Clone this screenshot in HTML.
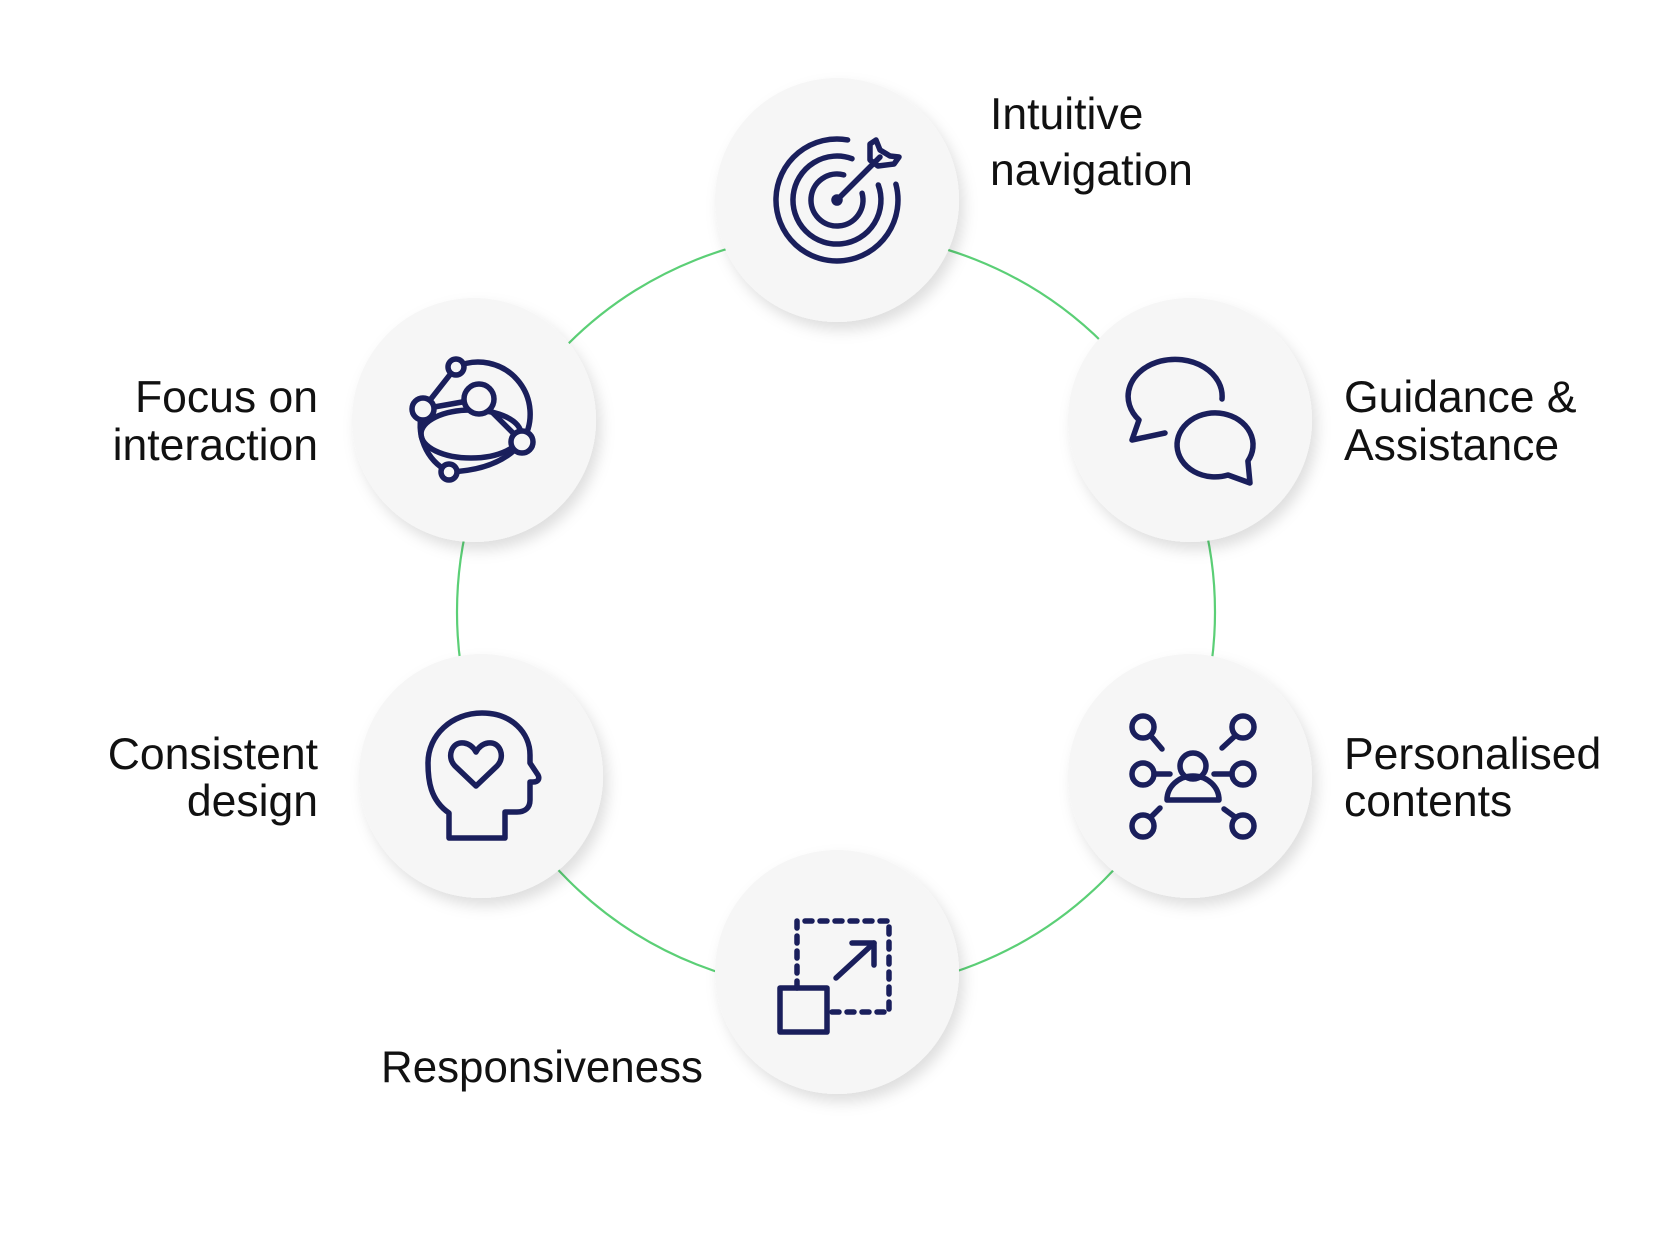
<!DOCTYPE html>
<html><head><meta charset="utf-8"><style>
html,body{margin:0;padding:0;background:#fff;}
svg{display:block;}
text{font-family:"Liberation Sans",Arial,sans-serif;font-size:44.5px;fill:#111;}
</style></head><body>
<svg width="1680" height="1240" viewBox="0 0 1680 1240" xmlns="http://www.w3.org/2000/svg">
<defs>
<filter id="sh" x="-30%" y="-30%" width="160%" height="160%">
<feDropShadow dx="5" dy="8" stdDeviation="7" flood-color="#000" flood-opacity="0.13"/>
</filter>
</defs>
<circle cx="836" cy="612" r="379" fill="none" stroke="#5bcf76" stroke-width="2.2"/>
<g fill="#f6f6f6" filter="url(#sh)">
<circle cx="837" cy="200" r="122"/>
<circle cx="1190" cy="420" r="122"/>
<circle cx="474" cy="420" r="122"/>
<circle cx="481" cy="776" r="122"/>
<circle cx="1190" cy="776" r="122"/>
<circle cx="837" cy="972" r="122"/>
</g>
<g fill="none" stroke="#1a1f5c" stroke-width="5.5" stroke-linecap="round" stroke-linejoin="round">
<path d="M895.9,184.2 A61,61 0 1 1 847.6,139.9"/>
<path d="M878.3,185 A44,44 0 1 1 852,158.7"/>
<path d="M862.1,193.3 A26,26 0 1 1 843.7,174.9"/>
<line x1="837" y1="200" x2="880" y2="157"/>
<path d="M870,160 L870,144 L876,140 L880,150 L890,156 L899,157 L894,164 L878,166 Z"/>
<circle cx="837" cy="200" r="3" fill="#1a1f5c"/>
<path d="M1165,433 L1132,440 L1139,420 A47,37 0 1 1 1222,399"/>
<path d="M1228,475 A38,32 0 1 1 1247.9,461 L1250,483 Z" />
<path d="M522,442 A52,52 0 0 0 456,367"/>
<path d="M423,409 A52,52 0 0 0 449,472"/>
<ellipse cx="471" cy="434" rx="50" ry="24"/>
<path d="M423,409 L479,399 L522,442"/>
<path d="M449,472 Q500,470 522,442"/>
<path d="M423,409 L456,367"/>
<g fill="#f6f6f6">
<circle cx="456" cy="367" r="8"/>
<circle cx="423" cy="409" r="11"/>
<circle cx="479" cy="399" r="15"/>
<circle cx="522" cy="442" r="11"/>
<circle cx="449" cy="472" r="8"/>
</g>
<path d="M449,838 L449,813 C430,800 428,780 428,763 C428,735 452,713 482,713 C512,713 530,733 530,755 L530,763 L538,775 C540,779 538,782 533,782 L530,782 L530,800 C530,808 525,812 517,812 L505,812 L505,838 Z"/>
<path d="M476,786 L455,766 C446,757 452,741 464,743 C470,744 474,748 476,752 C478,748 482,744 488,743 C500,741 506,757 497,766 Z"/>
<circle cx="1193" cy="766" r="13"/>
<path d="M1167,800 A26,24 0 0 1 1219,800 Z"/>
<circle cx="1143" cy="727" r="11"/><circle cx="1143" cy="774" r="11"/><circle cx="1143" cy="826" r="11"/>
<circle cx="1243" cy="727" r="11"/><circle cx="1243" cy="774" r="11"/><circle cx="1243" cy="826" r="11"/>
<line x1="1151" y1="736" x2="1162" y2="749"/><line x1="1154" y1="774" x2="1170" y2="774"/><line x1="1151" y1="817" x2="1160" y2="808"/>
<line x1="1235" y1="736" x2="1222" y2="748"/><line x1="1232" y1="774" x2="1214" y2="774"/><line x1="1235" y1="817" x2="1224" y2="809"/>
<rect x="780" y="988" width="47" height="44"/>
<path d="M797,988 L797,921 L889,921 L889,1012 L827,1012" stroke-dasharray="7,8"/>
<line x1="836" y1="978" x2="874" y2="943"/>
<path d="M852,943 L874,943 L874,965"/>
</g>
<text x="990" y="129">Intuitive</text>
<text x="990" y="185">navigation</text>
<text x="318" y="412" text-anchor="end">Focus on</text>
<text x="318" y="460" text-anchor="end">interaction</text>
<text x="318" y="769" text-anchor="end">Consistent</text>
<text x="318" y="816" text-anchor="end">design</text>
<text x="1344" y="412">Guidance &amp;</text>
<text x="1344" y="460">Assistance</text>
<text x="1344" y="769">Personalised</text>
<text x="1344" y="816">contents</text>
<text x="381" y="1082" textLength="322" lengthAdjust="spacingAndGlyphs">Responsiveness</text>
</svg>
</body></html>
